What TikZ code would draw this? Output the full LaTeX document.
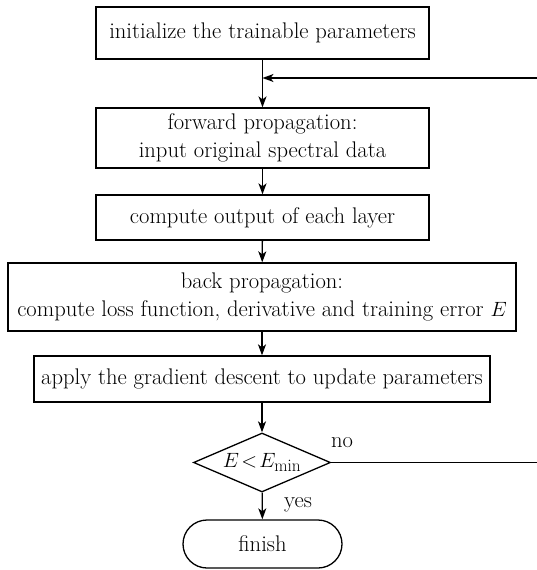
\documentclass[tikz,border=0pt]{standalone}
\usetikzlibrary{arrows.meta,shapes.geometric,shapes.misc}
\begin{document}
\begin{tikzpicture}[x=1bp,y=-1bp,
  every node/.style={font=\fontsize{22.7}{28}\selectfont},
  box/.style={draw, line width=1.3bp, inner sep=0pt, align=center},
  arr/.style={-{Stealth[length=11bp,width=8bp,inset=3bp]}, line width=1.3bp},
  ln/.style={line width=1.3bp}]
\useasboundingbox (0,0) rectangle (537,570);
\node[box, minimum width=333bp, minimum height=52bp] (b1) at (262.5,33) {initialize the trainable parameters};
\node[box, minimum width=333bp, minimum height=60bp] (b2) at (262.5,138) {forward propagation:\\input original spectral data};
\node[box, minimum width=333bp, minimum height=45bp] (b3) at (262.5,217.5) {compute output of each layer};
\node[box, minimum width=508bp, minimum height=68bp] (b4) at (262,297) {back propagation:\\compute loss function, derivative and training error $E$};
\node[box, minimum width=456bp, minimum height=46bp] (b5) at (262,379) {apply the gradient descent to update parameters};
\node[box, shape=diamond, shape aspect=2.3, minimum width=137bp, minimum height=59bp] (d) at (262,462.5) {$E\!<\!E_{\mathrm{min}}$};
\node[box, shape=rounded rectangle, minimum width=159bp, minimum height=48bp] (f) at (262.5,544) {finish};
\coordinate (j) at (262.5,78);
\coordinate (fbtop) at (537,78);
\coordinate (fbbot) at (537,462.5);
\draw[arr] (b1) -- (b2);
\draw[arr] (fbtop) -- (j);
\draw[arr] (b2) -- (b3);
\draw[arr] (b3) -- (b4);
\draw[arr] (b4) -- (b5);
\draw[arr] (b5) -- (d);
\draw[arr] (d) -- (f);
\draw[ln] (d.east) -- (fbbot);
\node (no) at (342,443) {no};
\node (yes) at (298,505) {yes};
\end{tikzpicture}
\end{document}
